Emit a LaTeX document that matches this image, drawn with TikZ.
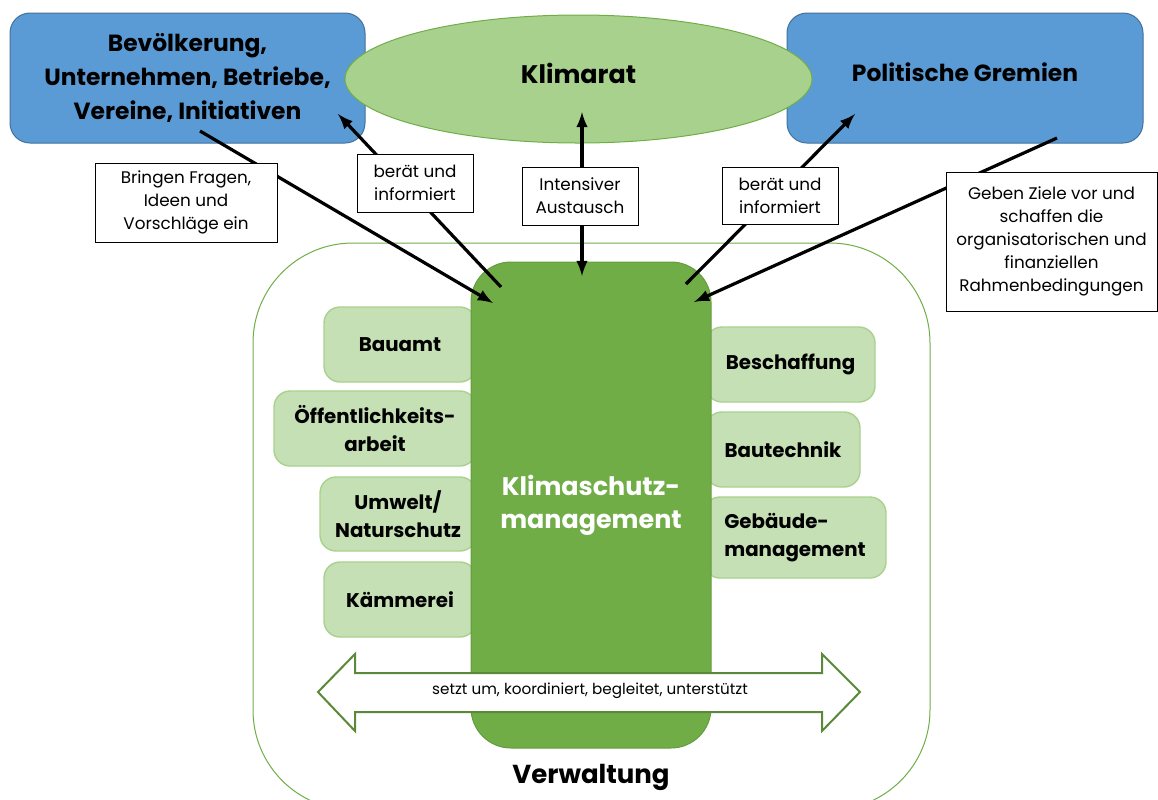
\documentclass[tikz,border=0pt]{standalone}
\usepackage{fontspec}
\setmainfont{Poppins}
\usetikzlibrary{shapes,arrows}

\definecolor{blaufill}{HTML}{5B9BD5}
\definecolor{blaurand}{HTML}{41719C}
\definecolor{gruenhell}{HTML}{A9D18E}
\definecolor{gruen}{HTML}{70AD47}
\definecolor{gruenblass}{HTML}{C5E0B4}

\tikzset{
  gremium/.style={draw=blaurand, fill=blaufill, line width=0.5pt, rounded corners=10pt, align=center,
    font=\bfseries\fontsize{11.7}{17}\selectfont},
  amt/.style={draw=gruenhell, fill=gruenblass, line width=0.7pt, rounded corners=8pt, align=center,
    font=\bfseries\fontsize{9.9}{14}\selectfont},
  hinweis/.style={draw, fill=white, line width=0.5pt, align=center, inner sep=1pt,
    font=\fontsize{8.4}{11.5}\selectfont},
  pfeil/.style={line width=1.6pt, -latex},
}

\begin{document}
\begin{tikzpicture}[x=0.5pt, y=-0.5pt]
\useasboundingbox (0,0) rectangle (1158,799);

\node[draw=gruen, line width=0.5pt, rounded corners=50pt, minimum width=338.5pt, minimum height=283.5pt] (verw) at (591.5,526.5) {};
\node[font=\bfseries\fontsize{13}{16}\selectfont] (verwtext) at (591,777) {Verwaltung};

% Aemter links und rechts
\node[amt, minimum width=76pt, minimum height=37.5pt] (bauamt) at (400,344.5) {Bauamt};
\node[amt, minimum width=101pt, minimum height=37.5pt] (oeff) at (375,428.5) {Öffentlichkeits-\\arbeit};
\node[amt, minimum width=78pt, minimum height=37pt] (umwelt) at (398,514) {Umwelt/\\Naturschutz};
\node[amt, minimum width=76pt, minimum height=37.5pt] (kaemmerei) at (400,599.5) {Kämmerei};
\node[amt, minimum width=84.5pt, minimum height=37.5pt] (beschaffung) at (790.5,364.5) {Beschaffung};
\node[amt, minimum width=77pt, minimum height=37.5pt] (bautechnik) at (783,449.5) {Bautechnik};
\node[amt, minimum width=91pt, minimum height=40.5pt, align=left] (gebaeude) at (795,537.5) {Gebäude-\\management};

\node[draw=gruen!90!black, fill=gruen, line width=0.5pt, rounded corners=20pt, minimum width=120pt, minimum height=243pt,
  align=center, text=white, font=\bfseries\fontsize{12.7}{16.5}\selectfont] (ksm) at (591,505) {Klimaschutz-\\management};

\draw[gruen!80!black, line width=1pt, fill=white] (318,692) -- (355,654) -- (355,673) -- (822,673) -- (822,654)
  -- (860,692) -- (822,731) -- (822,712) -- (355,712) -- (355,731) -- cycle;
\node[font=\fontsize{7.6}{9}\selectfont] (umsetzung) at (590,691) {setzt um, koordiniert, begleitet, unterstützt};

% oben
\node[gremium, minimum width=177.5pt, minimum height=65pt] (bev) at (187.5,78) {Bevölkerung,\\Unternehmen, Betriebe,\\Vereine, Initiativen};
\node[gremium, minimum width=178pt, minimum height=65pt] (pol) at (965,78) {};
\node[font=\bfseries\fontsize{11.7}{17}\selectfont] (poltext) at (965,72) {Politische Gremien};
\node[ellipse, draw=gruen, fill=gruenhell, line width=0.5pt, minimum width=233.5pt, minimum height=64pt] (klimarat) at (578.5,79) {};
\node[font=\bfseries\fontsize{12.7}{16}\selectfont] (rattext) at (578.5,73) {Klimarat};

% Pfeile
\coordinate (bev-aus) at (200,131);
\coordinate (bev-ein) at (338,114);
\coordinate (pol-ein) at (855,114);
\coordinate (pol-aus) at (1057,138);
\coordinate (rat-ein) at (582,112);
\coordinate (ksm-ein1) at (493,303);
\coordinate (ksm-aus1) at (501,287);
\coordinate (ksm-rat) at (582,276);
\coordinate (ksm-aus2) at (686,284);
\coordinate (ksm-ein2) at (694,302);

\draw[pfeil] (bev-aus) -- (ksm-ein1);
\draw[pfeil] (ksm-aus1) -- (bev-ein);
\draw[pfeil, latex-latex] (ksm-rat) -- (rat-ein);
\draw[pfeil] (ksm-aus2) -- (pol-ein);
\draw[pfeil] (pol-aus) -- (ksm-ein2);

\node[hinweis, minimum width=91pt, minimum height=39.5pt] (fragen) at (186,202.5) {Bringen Fragen,\\Ideen und\\Vorschläge ein};
\node[hinweis, minimum width=58pt, minimum height=29pt] (beraet1) at (415,183) {berät und\\informiert};
\node[hinweis, minimum width=58pt, minimum height=29pt] (austausch) at (580,196) {Intensiver\\Austausch};
\node[hinweis, minimum width=58pt, minimum height=28.5pt] (beraet2) at (780,195.5) {berät und\\informiert};
\node[hinweis, minimum width=105.5pt, minimum height=69.5pt] (ziele) at (1051.5,241.5) {Geben Ziele vor und\\schaffen die\\organisatorischen und\\finanziellen\\Rahmenbedingungen};

\end{tikzpicture}
\end{document}
